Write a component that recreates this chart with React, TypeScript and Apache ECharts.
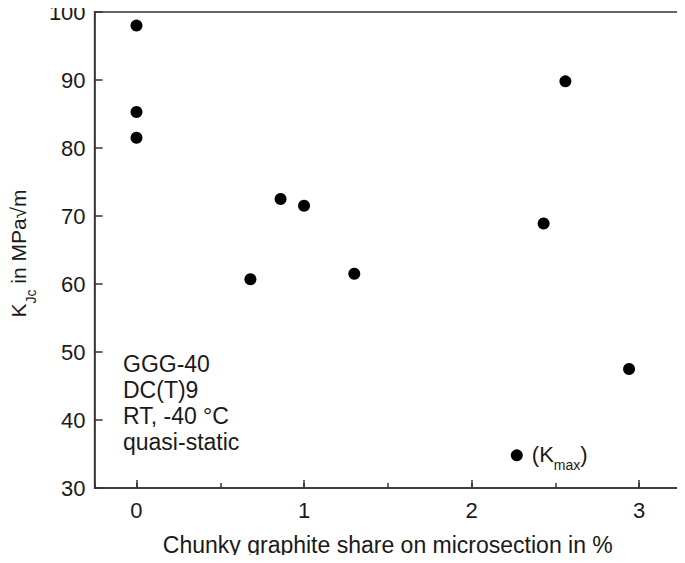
import React, { useEffect, useRef } from "react";
import * as echarts from "echarts";

const xValues = [0, 0, 0, 0.68, 0.86, 1.0, 1.3, 2.27, 2.43, 2.56, 2.94];
const yValues = [98.0, 85.3, 81.5, 60.7, 72.5, 71.5, 61.5, 34.8, 68.9, 89.8, 47.5];
const kmaxIndex = 7;
const infoLines = ["GGG-40", "DC(T)9", "RT, -40 °C", "quasi-static"];
const xTitle = "Chunky graphite share on microsection in %";

const FONT = "Liberation Sans, Arial, sans-serif";
const TXT = "#1a1a1a";
const AX = "#333333";

export default function App() {
  const ref = useRef<HTMLDivElement>(null);
  useEffect(() => {
    if (!ref.current) return;
    const chart = echarts.init(ref.current, undefined, { renderer: "svg" });
    const data = xValues.map((x, i) => {
      const item: any = { value: [x, yValues[i]] };
      if (i === kmaxIndex) {
        item.label = {
          show: true,
          position: "right",
          distance: 9,
          formatter: "{a|(K}{s|max}{a|)}",
          rich: {
            a: { fontSize: 22, fontFamily: FONT, color: TXT, verticalAlign: "top", lineHeight: 24 },
            s: { fontSize: 14, fontFamily: FONT, color: TXT, verticalAlign: "top", lineHeight: 14, padding: [15, 0, 0, 0] },
          },
        };
      }
      return item;
    });
    const commonX = {
      type: "value",
      min: -0.25,
      max: 3.25,
      position: "bottom",
      splitLine: { show: false },
    };
    chart.setOption({
      animation: false,
      grid: {
        left: 89,
        top: 12,
        right: 4,
        bottom: 75,
        show: true,
        borderColor: AX,
        borderWidth: 1.5,
        backgroundColor: "transparent",
      },
      xAxis: [
        {
          ...commonX,
          splitNumber: 4,
          axisLine: { show: true, onZero: false, lineStyle: { color: AX, width: 1.5 } },
          axisTick: { show: true, inside: true, length: 8, lineStyle: { color: AX, width: 1.5 } },
          axisLabel: {
            show: true,
            fontSize: 22,
            fontFamily: FONT,
            color: TXT,
            margin: 11,
            showMinLabel: false,
            showMaxLabel: false,
            formatter: (v: number) => (Number.isInteger(v) ? String(v) : ""),
          },
          name: xTitle,
          nameLocation: "middle",
          nameGap: 45,
          nameTextStyle: { fontSize: 23, fontFamily: FONT, color: TXT },
        },
        {
          ...commonX,
          splitNumber: 7,
          axisLine: { show: false, onZero: false },
          axisTick: { show: true, inside: true, length: 5, lineStyle: { color: AX, width: 1.5 } },
          axisLabel: { show: false },
        },
      ],
      yAxis: {
        type: "value",
        min: 30,
        max: 100,
        interval: 10,
        splitLine: { show: false },
        axisLine: { show: true, onZero: false, lineStyle: { color: AX, width: 1.5 } },
        axisTick: { show: true, inside: true, length: 8, lineStyle: { color: AX, width: 1.5 } },
        axisLabel: { fontSize: 22, fontFamily: FONT, color: TXT, margin: 9 },
        name: "{k|K}{s|Jc}{k| in MPa√m}",
        nameLocation: "middle",
        nameGap: 53,
        nameTextStyle: {
          fontSize: 21,
          fontFamily: FONT,
          color: TXT,
          padding: [0, 7, 0, 0],
          rich: {
            k: { fontSize: 21, fontFamily: FONT, color: TXT, verticalAlign: "top", lineHeight: 23 },
            s: { fontSize: 14, fontFamily: FONT, color: TXT, verticalAlign: "top", lineHeight: 14, padding: [16, 0, 0, 0] },
          },
        },
      },
      graphic: [
        {
          type: "text",
          left: 123,
          top: 351,
          style: {
            text: infoLines.join("\n"),
            fontSize: 23,
            lineHeight: 26,
            fontFamily: FONT,
            fill: TXT,
          },
        },
      ],
      series: [
        {
          type: "scatter",
          xAxisIndex: 0,
          symbol: "circle",
          symbolSize: 12,
          itemStyle: { color: "#000000", opacity: 1 },
          data,
        },
      ],
    });
    return () => chart.dispose();
  }, []);
  return <div ref={ref} style={{ width: 685, height: 563, margin: -8 }} />;
}
